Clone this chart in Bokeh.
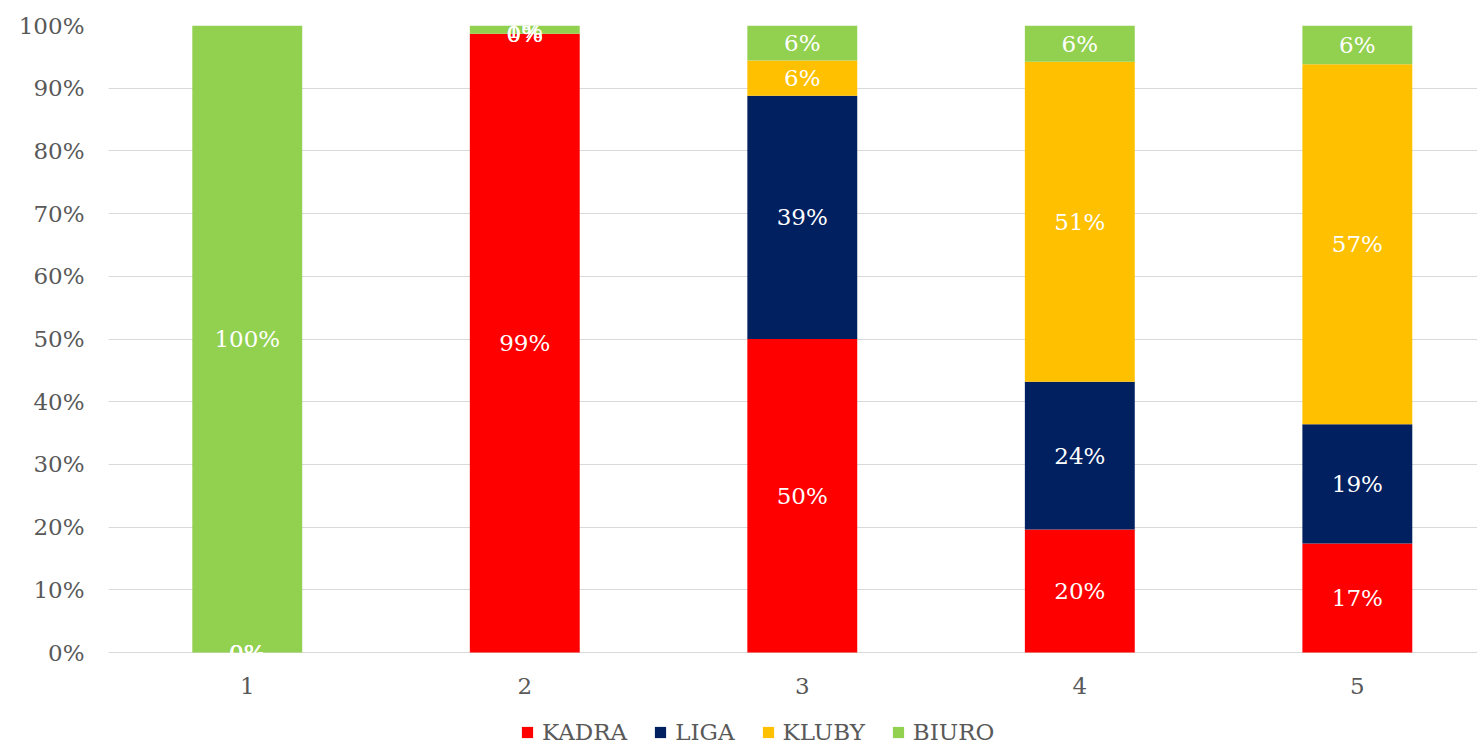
import numpy as np
from bokeh.plotting import figure
from bokeh.models import ColumnDataSource, NumeralTickFormatter, FixedTicker, Legend, LegendItem, Range1d
from bokeh.core.properties import value
from bokeh.embed import file_html
from bokeh.resources import INLINE

categories = ["1", "2", "3", "4", "5"]
series = ["KADRA", "LIGA", "KLUBY", "BIURO"]
kadra = [0.0, 98.7, 50.0, 19.6, 17.4]
liga = [0.0, 0.0, 38.8, 23.6, 19.0]
kluby = [0.0, 0.0, 5.6, 51.0, 57.4]
biuro = [100.0, 1.3, 5.6, 5.8, 6.2]
colors = ["#FF0000", "#002060", "#FFC000", "#92D050"]

FONT = "DejaVu Serif"
GREY = "#595959"
PX_PER_UNIT = 627.0          # vertical pixels for 0..100 %
FRAME_H = 720
xs = np.arange(1, len(categories) + 1)
data = {"x": xs}
for name, vals in zip(series, [kadra, liga, kluby, biuro]):
    data[name] = np.array(vals) / 100.0
src = ColumnDataSource(data)

ymin = 1.0 - FRAME_H / PX_PER_UNIT
p = figure(frame_width=1369, frame_height=FRAME_H, output_backend="svg", toolbar_location=None,
           x_range=Range1d(0.5, 5.433), y_range=Range1d(ymin, 1),
           min_border_left=108, min_border_right=0, min_border_top=25, min_border_bottom=0)
p.outline_line_color = None
p.background_fill_color = "white"

renderers = p.vbar_stack(series, x="x", width=0.396, source=src, color=colors, line_color=None)

# data labels
cum = np.zeros(len(categories))
for name in series:
    v = np.array(data[name])
    centers = cum + v / 2.0
    cum = cum + v
    labels = ["{:.0f}%".format(val * 100) for val in v]
    p.text(x=xs, y=centers, text=labels, text_color="white", text_font=value(FONT),
           text_font_size="23px", text_align="center", text_baseline="middle")

# category labels (x axis drawn at y = 0)
p.text(x=xs, y=[-33.0 / PX_PER_UNIT] * len(xs), text=categories, text_color=GREY,
       text_font=value(FONT), text_font_size="23px", text_align="center", text_baseline="middle")
p.xaxis.visible = False

p.yaxis.ticker = FixedTicker(ticks=[i / 10 for i in range(11)])
p.yaxis.formatter = NumeralTickFormatter(format="0%")
p.yaxis.major_label_text_font = FONT
p.yaxis.major_label_text_font_size = "23px"
p.yaxis.major_label_text_color = GREY
p.yaxis.major_tick_line_color = None
p.yaxis.minor_tick_line_color = None
p.yaxis.axis_line_color = None
p.yaxis.major_label_standoff = 18

p.xgrid.grid_line_color = None
p.ygrid.grid_line_color = "#d9d9d9"
p.ygrid.grid_line_width = 1

legend = Legend(items=[LegendItem(label=n, renderers=[r]) for n, r in zip(series, renderers)],
                orientation="horizontal", location=(412, 0),
                label_text_font=FONT, label_text_font_size="23px", label_text_color=GREY,
                glyph_width=14, glyph_height=14, label_standoff=8, spacing=26,
                border_line_color=None, background_fill_alpha=0, padding=0, margin=0)
p.add_layout(legend, "center")

open("out.html", "w").write(file_html(p, INLINE))
